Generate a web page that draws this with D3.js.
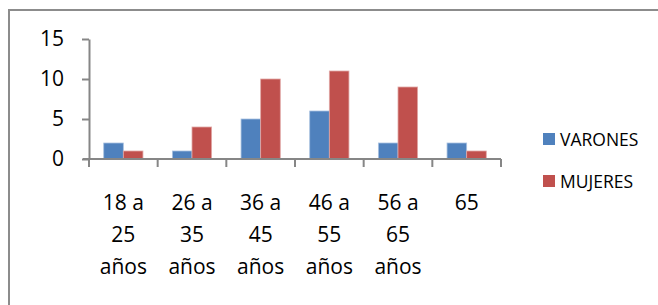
<!DOCTYPE html>
<html>
<head>
<meta charset="utf-8">
<script src="https://cdn.jsdelivr.net/npm/d3@7"></script>
<style>
  html, body { margin: 0; padding: 0; background: #fff; }
  svg { display: block; }
  text { font-family: "Open Sans", Calibri, sans-serif; fill: #000; }
</style>
</head>
<body>
<div id="chart"></div>
<script>
const categories = [["18 a", "25", "años"], ["26 a", "35", "años"], ["36 a", "45", "años"],
                    ["46 a", "55", "años"], ["56 a", "65", "años"], ["65"]];
const varones = [2, 1, 5, 6, 2, 2];
const mujeres = [1, 4, 10, 11, 9, 1];
const series = ["VARONES", "MUJERES"];
const colors = ["#4F81BD", "#C0504D"];
const yTicks = [0, 5, 10, 15];

const width = 658, height = 305;
const plot = {left: 89, right: 501, top: 39, bottom: 159};

const svg = d3.select('#chart').append('svg')
    .attr('width', width)
    .attr('height', height);

// outer frame (right and bottom edges fall outside the picture)
svg.append('rect')
    .attr('x', 9).attr('y', 10)
    .attr('width', 700).attr('height', 400)
    .attr('fill', 'none')
    .attr('stroke', '#8c8c8c')
    .attr('stroke-width', 2);

const idx = d3.range(categories.length);
const x0 = d3.scaleBand().domain(idx).range([plot.left, plot.right]).paddingInner(0).paddingOuter(0);
const groupW = x0.bandwidth() * 2 / 3.5;
const x1 = d3.scaleBand().domain([0, 1]).range([0, groupW]);
const y = d3.scaleLinear().domain([0, 15]).range([plot.bottom, plot.top]);

const data = idx.map(i => [varones[i], mujeres[i]]);

const groups = svg.append('g').selectAll('g')
    .data(data)
    .join('g')
    .attr('transform', (d, i) => `translate(${x0(i) + (x0.bandwidth() - groupW) / 2},0)`);

groups.selectAll('rect')
    .data(d => d)
    .join('rect')
    .attr('x', (d, j) => x1(j))
    .attr('y', d => y(d))
    .attr('width', x1.bandwidth())
    .attr('height', d => y(0) - y(d))
    .attr('fill', (d, j) => colors[j])
    .attr('stroke', (d, j) => j === 0 ? '#a9c1e0' : '#e0a8a6')
    .attr('stroke-width', 0.8);

// y axis
const yAxis = svg.append('g')
    .attr('transform', `translate(${plot.left},0)`)
    .call(d3.axisLeft(y).tickValues(yTicks).tickSize(7).tickPadding(18).tickSizeOuter(0));
yAxis.select('.domain').attr('stroke', '#868686').attr('stroke-width', 2);
yAxis.selectAll('.tick line').attr('stroke', '#868686').attr('stroke-width', 2);
yAxis.selectAll('.tick text')
    .attr('font-size', 21)
    .attr('fill', '#000')
    .style('font-family', '"Open Sans", sans-serif');

// x axis line and ticks
const xAxis = svg.append('g');
xAxis.append('line')
    .attr('x1', plot.left - 6).attr('x2', plot.right)
    .attr('y1', plot.bottom).attr('y2', plot.bottom)
    .attr('stroke', '#868686').attr('stroke-width', 2);
xAxis.selectAll('.xtick')
    .data(d3.range(categories.length + 1))
    .join('line')
    .attr('x1', i => plot.left + i * x0.bandwidth())
    .attr('x2', i => plot.left + i * x0.bandwidth())
    .attr('y1', plot.bottom).attr('y2', plot.bottom + 8)
    .attr('stroke', '#868686').attr('stroke-width', 2);

// category labels
const labels = svg.append('g').selectAll('text')
    .data(categories)
    .join('text')
    .attr('text-anchor', 'middle')
    .attr('font-size', 21)
    .attr('x', (d, i) => x0(i) + x0.bandwidth() / 2)
    .attr('y', 210);
labels.selectAll('tspan')
    .data(d => d)
    .join('tspan')
    .attr('x', function () { return this.parentNode.getAttribute('x'); })
    .attr('dy', (d, j) => j === 0 ? 0 : 32)
    .text(d => d);

// legend
const legend = svg.append('g').selectAll('g')
    .data(series)
    .join('g')
    .attr('transform', (d, i) => `translate(543,${133 + i * 42})`);
legend.append('rect')
    .attr('width', 12).attr('height', 12)
    .attr('fill', (d, i) => colors[i]);
legend.append('text')
    .attr('x', 17).attr('y', 12.5)
    .attr('font-size', 17.5)
    .text(d => d);
</script>
</body>
</html>
